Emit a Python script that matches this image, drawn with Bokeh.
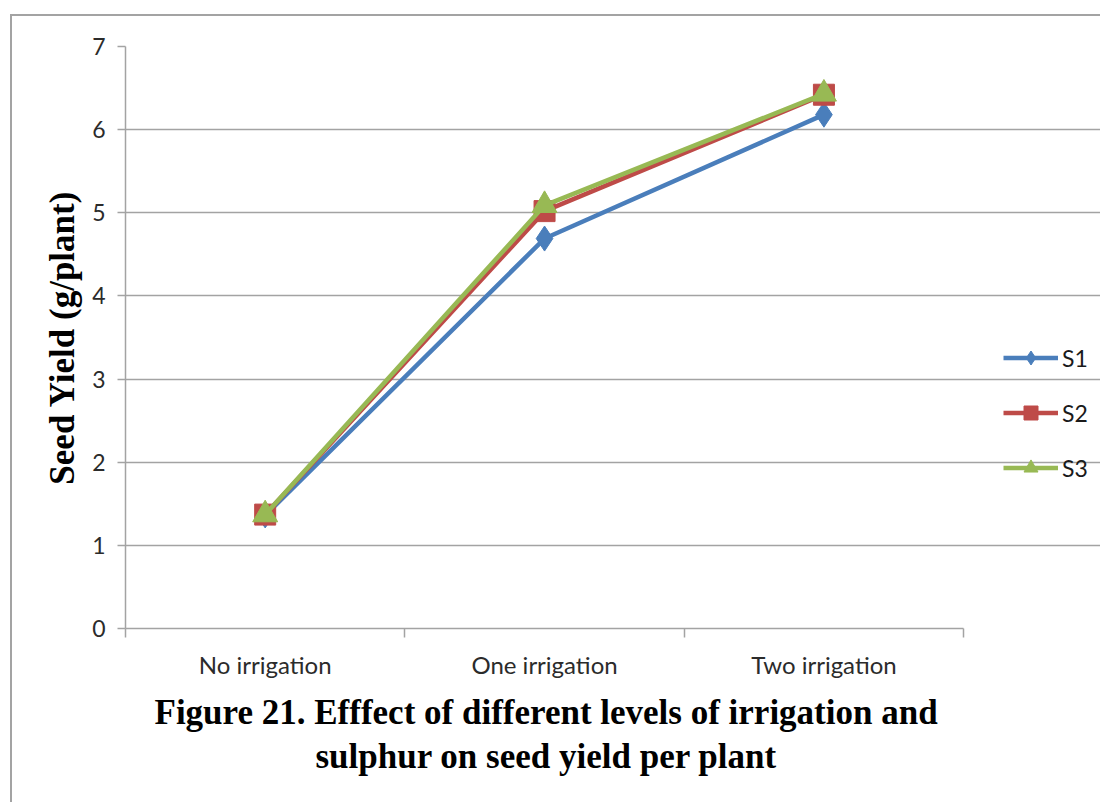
from bokeh.plotting import figure
from bokeh.models import FixedTicker, Legend, LegendItem, Title
from bokeh.embed import file_html
from bokeh.resources import INLINE

# Seed yield (g/plant) under three irrigation levels for three sulphur doses
categories = ["No irrigation", "One irrigation", "Two irrigation"]
series_names = ["S1", "S2", "S3"]
s1 = [1.36, 4.69, 6.18]
s2 = [1.37, 5.02, 6.42]
s3 = [1.37, 5.09, 6.43]
y_ticks = [0, 1, 2, 3, 4, 5, 6, 7]

colors = ["#4a7ebb", "#be4b48", "#98b954"]
markers = ["diamond", "square", "triangle"]
marker_sizes = [25, 21, 25]

# categories sit in the middle of unit-wide slots on a numeric axis
n_cat = len(categories)
x_pos = [i + 0.5 for i in range(n_cat)]

GRAY = "#a3a3a3"
TICK_FONT = "Lato"
SERIF = "Liberation Serif"

# the frame runs on to the right so that the legend beside the axes is not clipped;
# axis and grid are bounded to the category slots
X_END = 3.49

p = figure(
    width=1090, height=788,
    x_range=(0, X_END), y_range=(y_ticks[0], y_ticks[-1]),
    output_backend="svg", toolbar_location=None,
    min_border_left=113, min_border_right=2,
    min_border_top=30, min_border_bottom=176,
)
p.margin = (14, 0, 0, 10)
p.styles = {"border-left": f"2px solid {GRAY}", "border-top": f"2px solid {GRAY}"}
p.outline_line_color = None
p.background_fill_color = "white"
p.border_fill_color = "white"

# y axis
p.yaxis.ticker = FixedTicker(ticks=y_ticks)
p.yaxis.axis_line_color = GRAY
p.yaxis.axis_line_width = 1.5
p.yaxis.major_tick_line_color = GRAY
p.yaxis.major_tick_line_width = 1.5
p.yaxis.major_tick_out = 8
p.yaxis.major_tick_in = 0
p.yaxis.minor_tick_line_color = None
p.yaxis.major_label_text_font = TICK_FONT
p.yaxis.major_label_text_font_size = "23px"
p.yaxis.major_label_text_color = "#2b2b2b"
p.yaxis.major_label_standoff = 12
p.yaxis.axis_label = "Seed Yield (g/plant)"
p.yaxis.axis_label_text_font = SERIF
p.yaxis.axis_label_text_font_style = "bold"
p.yaxis.axis_label_text_font_size = "35px"
p.yaxis.axis_label_text_color = "black"
p.yaxis.axis_label_standoff = 7

# x axis: labels at slot centres, short ticks at slot boundaries
p.xaxis.bounds = (0, n_cat)
p.xaxis.ticker = FixedTicker(ticks=x_pos, minor_ticks=list(range(n_cat + 1)))
p.xaxis.major_label_overrides = {xp: c for xp, c in zip(x_pos, categories)}
p.xaxis.axis_line_color = GRAY
p.xaxis.axis_line_width = 1.5
p.xaxis.major_tick_out = 0
p.xaxis.major_tick_in = 0
p.xaxis.minor_tick_out = 9
p.xaxis.minor_tick_in = 0
p.xaxis.minor_tick_line_color = GRAY
p.xaxis.minor_tick_line_width = 1.5
p.xaxis.major_label_text_font = TICK_FONT
p.xaxis.major_label_text_font_size = "24px"
p.xaxis.major_label_text_color = "#2b2b2b"
p.xaxis.major_label_standoff = 12

p.xgrid.visible = False
p.ygrid.ticker = FixedTicker(ticks=y_ticks)
p.ygrid.bounds = (0, n_cat)
p.ygrid.grid_line_color = GRAY
p.ygrid.grid_line_width = 1.5

items = []
for name, ys, col, mk, ms in zip(series_names, [s1, s2, s3], colors, markers, marker_sizes):
    ln = p.line(x_pos, ys, line_color=col, line_width=4.5)
    sc = p.scatter(x_pos, ys, marker=mk, size=ms, fill_color=col, line_color=col)
    items.append(LegendItem(label=name, renderers=[ln, sc]))

legend = Legend(
    items=items, location=(878, 143),
    glyph_width=55, glyph_height=35, spacing=20,
    label_standoff=4, padding=0, margin=0,
    label_text_font=TICK_FONT, label_text_font_size="23px",
    label_text_color="#1a1a1a",
    background_fill_alpha=0, border_line_color=None,
)
p.add_layout(legend, "center")

# two-line caption under the chart, each line centred under the category slots
caption = ["Figure 21. Efffect of different levels of irrigation and",
           "sulphur on seed yield  per plant"]
caption_offsets = [29, 190]
caption_standoffs = [18, -12]
for line, off, so in zip(caption, caption_offsets, caption_standoffs):
    p.add_layout(Title(text=line, align="left", offset=off, text_font=SERIF,
                       text_font_style="bold", text_font_size="35px",
                       text_color="black", standoff=so), "below")

open("out.html", "w").write(file_html(p, INLINE))
